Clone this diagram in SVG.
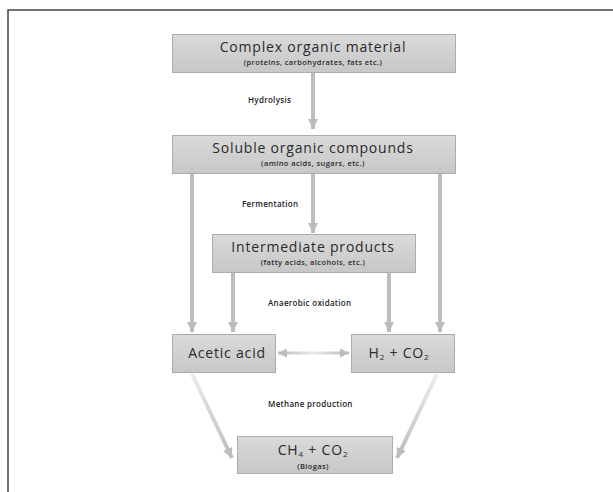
<svg xmlns="http://www.w3.org/2000/svg" width="613" height="492" viewBox="0 0 613 492">
<defs>
<linearGradient id="boxg" x1="0" y1="0" x2="0" y2="1">
<stop offset="0" stop-color="#dadada"/>
<stop offset="1" stop-color="#c7c7c7"/>
</linearGradient>
<linearGradient id="fadeL" gradientUnits="userSpaceOnUse" x1="192" y1="374" x2="233" y2="458">
<stop offset="0" stop-color="#ececec"/>
<stop offset="1" stop-color="#bcbcbc"/>
</linearGradient>
<linearGradient id="fadeR" gradientUnits="userSpaceOnUse" x1="437" y1="374" x2="396" y2="458">
<stop offset="0" stop-color="#ececec"/>
<stop offset="1" stop-color="#bcbcbc"/>
</linearGradient>
<linearGradient id="dbl" gradientUnits="userSpaceOnUse" x1="277" y1="0" x2="349" y2="0">
<stop offset="0" stop-color="#bdbdbd"/>
<stop offset="0.5" stop-color="#e8e8e8"/>
<stop offset="1" stop-color="#bdbdbd"/>
</linearGradient>
<marker id="ah" viewBox="0 0 10 10" refX="10" refY="5" markerWidth="10" markerHeight="10" markerUnits="userSpaceOnUse" orient="auto-start-reverse">
<path d="M0,0 L10,5 L0,10 z" fill="#bcbcbc"/>
</marker>
<marker id="ahs" viewBox="0 0 10 10" refX="10" refY="5" markerWidth="9" markerHeight="9" markerUnits="userSpaceOnUse" orient="auto-start-reverse">
<path d="M0,0 L10,5 L0,10 z" fill="#bcbcbc"/>
</marker>
</defs>
<style>
.box{fill:url(#boxg);stroke:#acacac;stroke-width:1}
.t{font-family:"Open Sans",Lato,sans-serif;fill:#2a2a2a;text-anchor:middle}
.big{font-size:14px;letter-spacing:0.8px}
.mid{font-size:14px;letter-spacing:0.8px}
.sub{font-size:7.5px;font-weight:600;letter-spacing:0.4px}
.lbl{font-family:"Open Sans",Lato,sans-serif;font-size:8px;font-weight:600;letter-spacing:0.3px;fill:#222}
.c{fill:none;stroke:#bdbdbd;stroke-width:4}
</style>
<rect width="613" height="492" fill="#fff"/>
<path d="M8,492 L8,10 L613,10" fill="none" stroke="#444" stroke-width="1.5"/>

<g id="connectors">
<line class="c" x1="313" y1="72" x2="313" y2="129" marker-end="url(#ah)"/>
<line class="c" x1="313" y1="173" x2="313" y2="233" marker-end="url(#ah)"/>
<line class="c" x1="192" y1="173" x2="192" y2="332" marker-end="url(#ah)"/>
<line class="c" x1="440" y1="173" x2="440" y2="332" marker-end="url(#ah)"/>
<line class="c" x1="233" y1="272" x2="233" y2="332" marker-end="url(#ah)"/>
<line class="c" x1="389" y1="272" x2="389" y2="332" marker-end="url(#ah)"/>
<line class="c" x1="278" y1="353" x2="349" y2="353" style="stroke:url(#dbl);stroke-width:3" marker-start="url(#ahs)" marker-end="url(#ahs)"/>
<line class="c" x1="192" y1="374" x2="232" y2="458" style="stroke:url(#fadeL)" marker-end="url(#ah)"/>
<line class="c" x1="437" y1="374" x2="397" y2="458" style="stroke:url(#fadeR)" marker-end="url(#ah)"/>
<text class="lbl" x="248" y="103">Hydrolysis</text>
<text class="lbl" x="242" y="207">Fermentation</text>
<text class="lbl" x="268" y="306">Anaerobic oxidation</text>
<text class="lbl" x="268" y="407">Methane production</text>
</g>

<g id="complex">
<rect class="box" x="172.5" y="34.5" width="283" height="38"/>
<text class="t big" x="313" y="52">Complex organic material</text>
<text class="t sub" x="313" y="65">(proteins, carbohydrates, fats etc.)</text>
</g>

<g id="soluble">
<rect class="box" x="172.5" y="135.5" width="283" height="38"/>
<text class="t big" x="313" y="153">Soluble organic compounds</text>
<text class="t sub" x="313" y="166">(amino acids, sugars, etc.)</text>
</g>

<g id="intermediate">
<rect class="box" x="212.5" y="234.5" width="203" height="38"/>
<text class="t mid" x="313" y="252">Intermediate products</text>
<text class="t sub" x="313" y="265">(fatty acids, alcohols, etc.)</text>
</g>

<g id="acetic">
<rect class="box" x="172.5" y="334.5" width="103" height="38"/>
<text class="t mid" x="227" y="358">Acetic acid</text>
</g>

<g id="h2co2">
<rect class="box" x="351.5" y="334.5" width="103" height="38"/>
<text class="t mid" x="399" y="358">H<tspan font-size="8" dy="2">2</tspan><tspan dy="-2"> + CO</tspan><tspan font-size="8" dy="2">2</tspan></text>
</g>

<g id="biogas">
<rect class="box" x="237.5" y="436.5" width="155" height="37"/>
<text class="t mid" x="313" y="455">CH<tspan font-size="8" dy="1.5">4</tspan><tspan dy="-1.5"> + CO</tspan><tspan font-size="8" dy="1.5">2</tspan></text>
<text class="t sub" x="313" y="469">(Biogas)</text>
</g>
</svg>
